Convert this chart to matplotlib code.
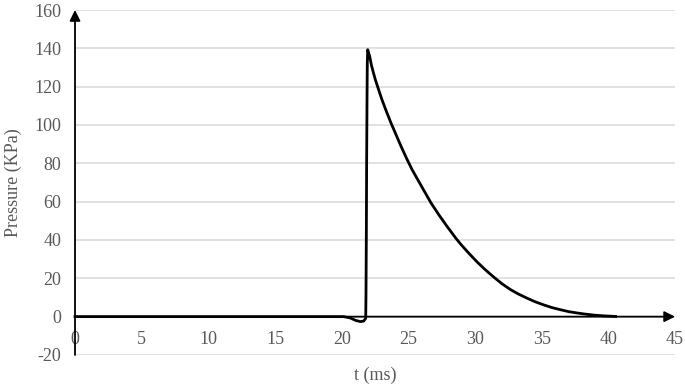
import matplotlib.pyplot as plt

plt.rcParams['font.family'] = 'Liberation Serif'
plt.rcParams['font.size'] = 13
plt.rcParams['axes.unicode_minus'] = False

# Pressure trace
t_ms = [0, 10, 20.15, 20.65, 21.02, 21.4, 21.65, 21.8, 21.82, 21.85, 21.87, 21.9,
        21.92, 21.95, 22.1, 22.22, 22.35, 22.52, 22.77, 23.02, 23.35, 23.7,
        24.07, 24.45, 24.85, 25.28, 25.7, 26.2, 26.7, 27.28, 27.9, 28.53,
        28.9, 29.53, 30.16, 30.78, 31.41, 32.03, 32.66, 33.28, 33.91, 34.53,
        35.16, 35.78, 36.41, 37.03, 37.66, 38.29, 38.91, 39.66, 40.54]
pressure = [0, 0, 0, -0.7, -1.9, -2.6, -2.3, -0.9, 10.6, 45.4, 80.2, 115,
            132.4, 139.3, 135.8, 131.5, 128.0, 123.7, 118.4, 113.2, 107.1, 101.0,
            95.0, 88.9, 82.8, 76.7, 71.5, 65.4, 59.3, 53.2, 47.1, 41.2,
            38.0, 33.1, 28.5, 24.4, 20.6, 17.1, 14.1, 11.7, 9.6, 7.7,
            6.1, 4.7, 3.6, 2.6, 1.9, 1.3, 0.8, 0.4, 0.1]

x_ticks = [0, 5, 10, 15, 20, 25, 30, 35, 40, 45]
y_ticks = [-20, 0, 20, 40, 60, 80, 100, 120, 140, 160]

grey = '#595959'

fig = plt.figure(figsize=(6.85, 3.85), dpi=100)
ax = fig.add_axes([0.1095, 0.078, 0.876, 0.896])

ax.set_xlim(0, 45)
ax.set_ylim(-20, 160)
ax.set_yticks(y_ticks)
ax.set_xticks(x_ticks)

for y in y_ticks:
    ax.axhline(y, color='#d9d9d9', linewidth=1.1, zorder=0)

for s in ['top', 'right', 'left']:
    ax.spines[s].set_visible(False)
ax.spines['bottom'].set_position(('data', 0))
ax.spines['bottom'].set_color('none')

ax.tick_params(axis='both', length=0, colors=grey, labelsize=13)
ax.tick_params(axis='x', pad=10)
ax.tick_params(axis='y', pad=10)

# axes with arrow heads
ax.annotate('', xy=(0, 160), xytext=(0, -20),
            arrowprops=dict(arrowstyle='-|>', color='black', lw=1.3,
                            mutation_scale=16, shrinkA=0, shrinkB=0), zorder=3)
ax.annotate('', xy=(45, 0), xytext=(0, 0),
            arrowprops=dict(arrowstyle='-|>', color='black', lw=1.3,
                            mutation_scale=16, shrinkA=0, shrinkB=0), zorder=3)

ax.plot(t_ms, pressure, color='black', linewidth=2.0, zorder=4,
        solid_joinstyle='round', clip_on=False)

ax.set_xlabel('t (ms)', color=grey, fontsize=13)
ax.set_ylabel('Pressure (KPa)', color=grey, fontsize=13)
ax.xaxis.set_label_coords(0.5, -0.035)
ax.yaxis.set_label_coords(-0.088, 0.5)

plt.savefig('out.png', dpi=100)
